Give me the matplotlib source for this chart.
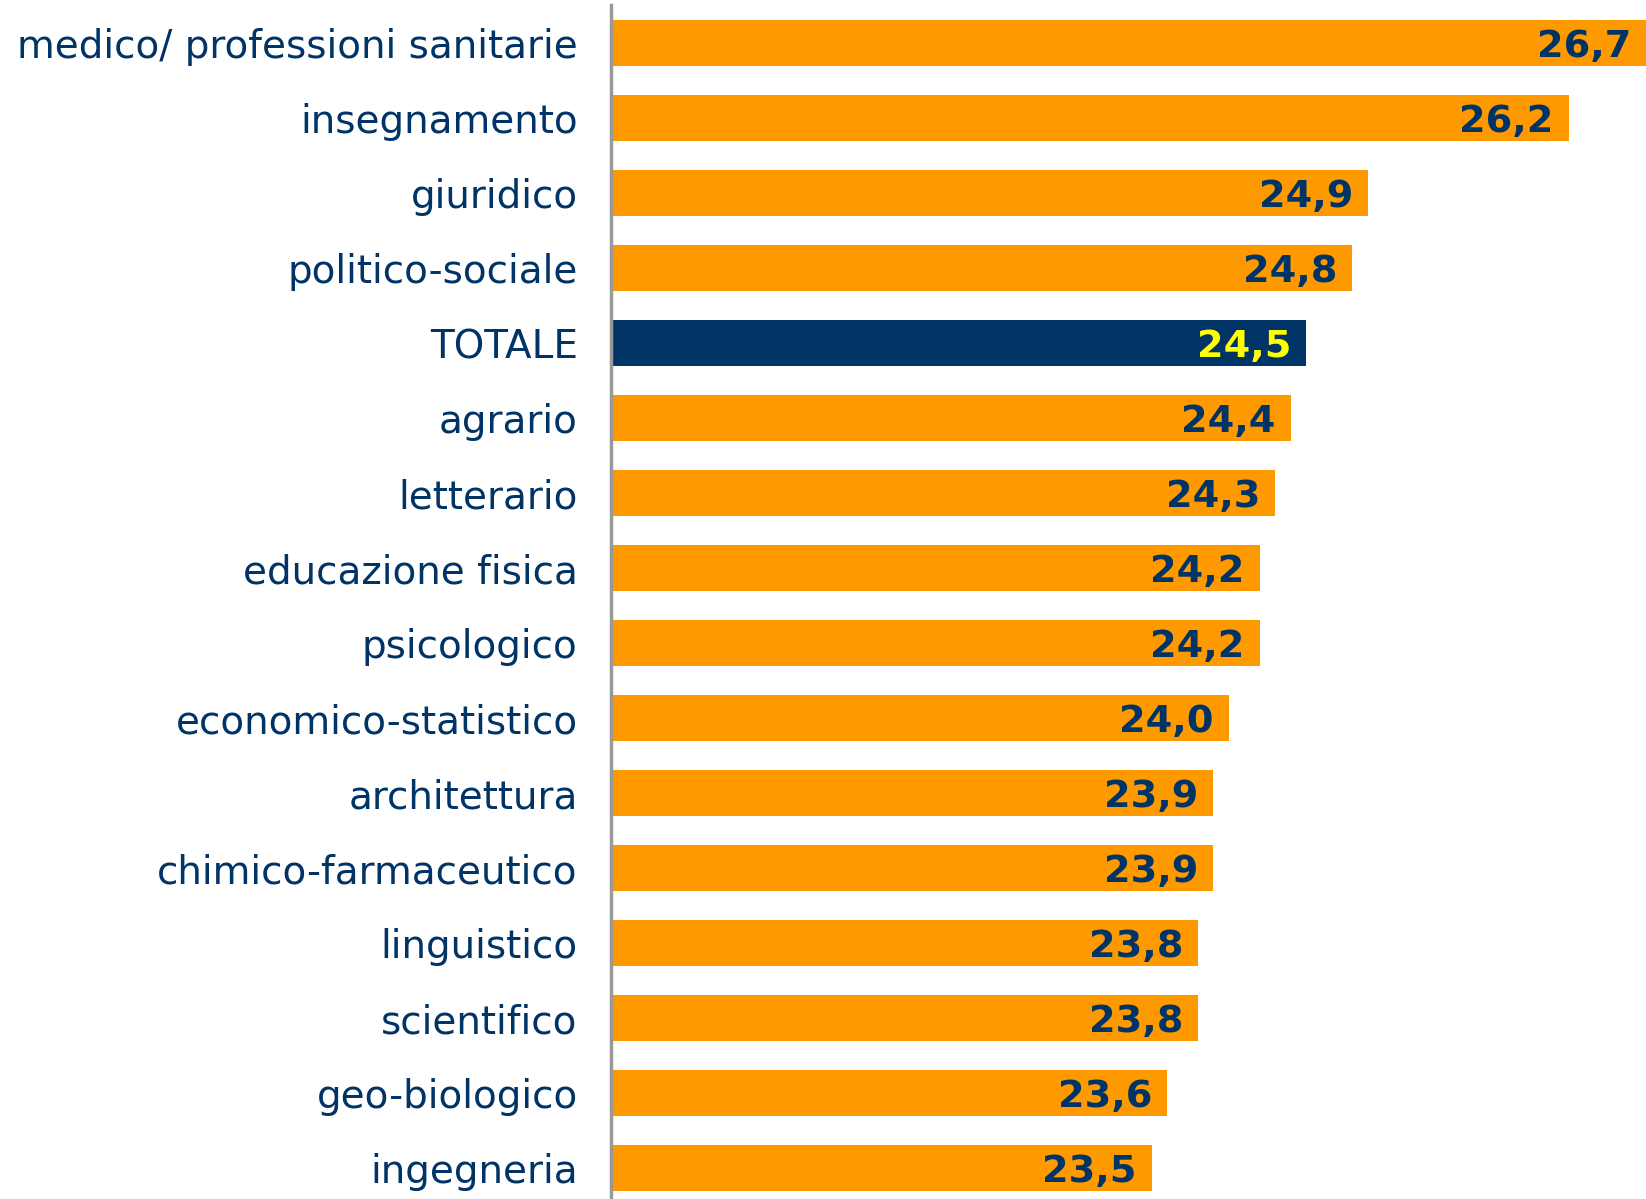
import numpy as np
import matplotlib.pyplot as plt

categorie = ['medico/ professioni sanitarie', 'insegnamento', 'giuridico', 'politico-sociale',
             'TOTALE', 'agrario', 'letterario', 'educazione fisica', 'psicologico',
             'economico-statistico', 'architettura', 'chimico-farmaceutico', 'linguistico',
             'scientifico', 'geo-biologico', 'ingegneria']
valori = [26.7, 26.2, 24.9, 24.8, 24.5, 24.4, 24.3, 24.2, 24.2, 24.0, 23.9, 23.9, 23.8, 23.8, 23.6, 23.5]

navy = '#003366'
arancio = '#FF9900'

fig = plt.figure(figsize=(16.46, 11.99), dpi=100)
ax = fig.add_axes([611/1646, 0, 1 - 611/1646, 1 - 5/1199])

y = np.arange(len(categorie))
colori = [navy if c == 'TOTALE' else arancio for c in categorie]
ax.barh(y, [v - 20 for v in valori], left=20, height=0.61, color=colori)

# etichette dei valori dentro le barre
for i, v in enumerate(valori):
    col = '#FFFF00' if categorie[i] == 'TOTALE' else navy
    ax.annotate(f'{v:.1f}'.replace('.', ','), (v, i), xytext=(-15, -4),
                textcoords='offset pixels', ha='right', va='center',
                fontsize=27.5, fontweight='bold', color=col)

ax.set_xlim(20, 26.7)
ax.set_ylim(15.41, -0.507)
ax.set_yticks(y)
ax.set_yticklabels(categorie, fontsize=28, color=navy)
ax.tick_params(axis='y', length=0, pad=24)
ax.set_xticks([])
for s in ['top', 'right', 'bottom']:
    ax.spines[s].set_visible(False)
ax.spines['left'].set_color('#999999')
ax.spines['left'].set_linewidth(2.5)

plt.savefig('out.png')
